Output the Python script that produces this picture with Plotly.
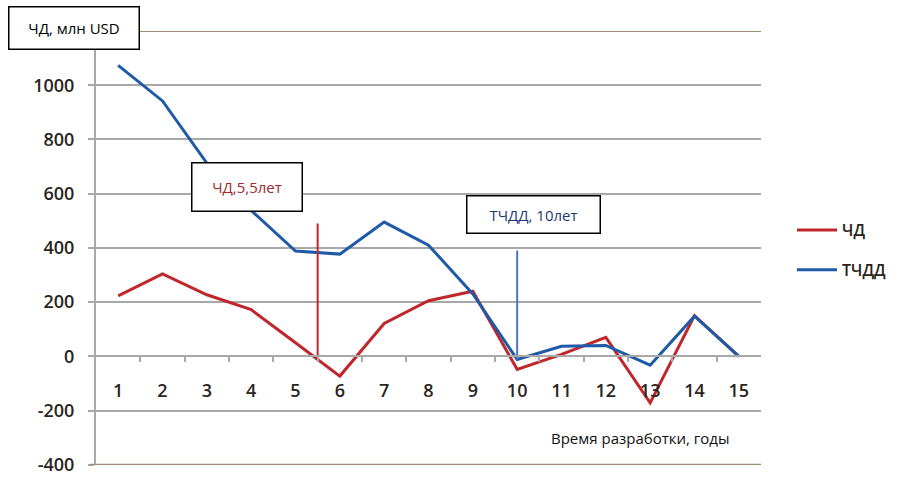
import plotly.graph_objects as go

# Development years and cash-flow series (million USD)
years = list(range(1, 16))
net_cash = [223, 304, 227, 172, 50, -73, 121, 205, 240, -48, 7, 70, -172, 150, 0]
discounted_cash = [1073, 942, 713, 538, 388, 377, 495, 410, 230, -12, 37, 40, -33, 148, 0]

# Payback markers: year, top of the marker line, bottom of the marker line
payback_years = [5.5, 10]
payback_tops = [490, 390]
payback_bottoms = [0, -12]

y_ticks = [-400, -200, 0, 200, 400, 600, 800, 1000]

W, H = 907, 477
L, R, T, B = 96, 146, 31, 12
PW, PH = W - L - R, H - T - B
Y_MIN, Y_MAX = -401, 1200


def px_x(p):
    return (p - L) / PW


def px_y(p):
    return (H - B - p) / PH


def data_y_frac(v):
    return (v - Y_MIN) / (Y_MAX - Y_MIN)


RED = "#c0272d"
BLUE = "#1f5aa8"
GRID = "#a8a8a8"
BROWN = "#a09070"
TICKFONT = dict(family="Open Sans", size=18, color="#2a2520", weight=600)

fig = go.Figure()

fig.add_trace(go.Scatter(
    x=years, y=net_cash, mode="lines", name="ЧД",
    line=dict(color=RED, width=3), legendgroup="a",
))
fig.add_trace(go.Scatter(
    x=years, y=discounted_cash, mode="lines", name="ТЧДД",
    line=dict(color=BLUE, width=3), legendgroup="b",
))

# Payback period markers
fig.add_trace(go.Scatter(
    x=[payback_years[0], payback_years[0]], y=[payback_bottoms[0], payback_tops[0]],
    mode="lines", line=dict(color=RED, width=2), showlegend=False,
))
fig.add_trace(go.Scatter(
    x=[payback_years[1], payback_years[1]], y=[payback_bottoms[1], payback_tops[1]],
    mode="lines", line=dict(color="#4a74c4", width=2), showlegend=False,
))

# Horizontal axis crosses the vertical one at zero
fig.update_xaxes(
    range=[0.5, 15.5], tickvals=years, ticktext=[str(v) for v in years],
    ticks="", showgrid=False, zeroline=False,
    showline=True, linecolor=GRID, linewidth=2,
    anchor="free", position=data_y_frac(0), automargin=False,
    tickfont=TICKFONT, ticklabelstandoff=18,
    minor=dict(tickvals=[v + 0.5 for v in years[:-1]], ticks="outside",
               ticklen=5, tickcolor=GRID, tickwidth=2, showgrid=False),
)
fig.update_yaxes(
    range=[Y_MIN, Y_MAX], tickvals=y_ticks, ticktext=[str(v) for v in y_ticks],
    showgrid=True, gridcolor=GRID, gridwidth=2, zeroline=False,
    showline=True, linecolor=GRID, linewidth=2, automargin=False,
    ticks="outside", ticklen=6, tickcolor=GRID, tickwidth=2,
    tickfont=TICKFONT, ticklabelstandoff=10, ticklabeloverflow="allow",
)

shapes = [
    dict(type="line", xref="paper", yref="y", x0=0, x1=1, y0=1200, y1=1200,
         line=dict(color=BROWN, width=2)),
    dict(type="line", xref="paper", yref="y", x0=px_x(90), x1=1, y0=-400, y1=-400,
         line=dict(color=BROWN, width=2)),
]


def box(text, x0, y0, x1, y1, color, size=15):
    return dict(
        text=text, xref="paper", yref="paper",
        x=px_x((x0 + x1) / 2), y=px_y((y0 + y1) / 2),
        xanchor="center", yanchor="middle", showarrow=False,
        width=x1 - x0 - 2, height=y1 - y0 - 2, borderpad=0,
        bordercolor="#000000", borderwidth=1.5, bgcolor="#ffffff",
        font=dict(family="Open Sans", size=size, color=color),
    )


annotations = [
    box("ЧД, млн USD", 8, 7, 139, 50, "#000000"),
    box("ЧД,5,5лет", 191, 163, 302, 212, "#9e2a2e", size=15),
    box("ТЧДД, 10лет", 466, 195, 600, 233, "#1f3a6e"),
    dict(text="Время разработки, годы", xref="paper", yref="paper",
         x=px_x(640), y=px_y(438), xanchor="center", yanchor="middle",
         showarrow=False, font=dict(family="Open Sans", size=15, color="#111111")),
]

fig.update_layout(
    width=W, height=H,
    margin=dict(l=L, r=R, t=T, b=B),
    paper_bgcolor="#ffffff", plot_bgcolor="#ffffff",
    shapes=shapes, annotations=annotations,
    showlegend=True,
    legend=dict(
        x=px_x(792), y=px_y(213), xanchor="left", yanchor="top",
        font=dict(family="Open Sans", size=16, color="#2a2418", weight=600),
        tracegroupgap=16, bgcolor="rgba(0,0,0,0)", itemwidth=40,
    ),
)

fig.write_html("out.html")
